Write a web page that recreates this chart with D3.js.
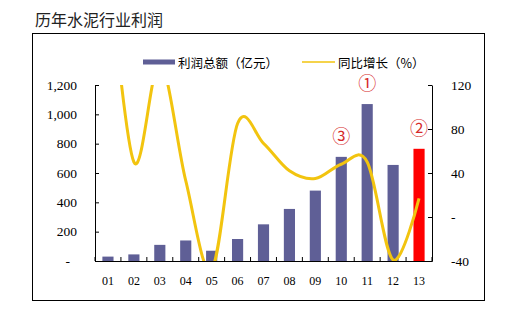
<!DOCTYPE html>
<html>
<head>
<meta charset="utf-8">
<script src="https://cdn.jsdelivr.net/npm/d3@7/dist/d3.min.js"></script>
<style>
  html, body { margin: 0; padding: 0; background: #fff; }
  svg { display: block; }
</style>
</head>
<body>
<script>
// Cement industry profit by year (亿元) and year-on-year growth (%)
const years = ["01", "02", "03", "04", "05", "06", "07", "08", "09", "10", "11", "12", "13"];
const profit = [30, 45, 110, 140, 70, 150, 250, 355, 480, 710, 1070, 655, 765];
const growth = [240, 50, 140, 33, -48, 85, 67, 42, 35, 48, 50, -39, 17];
const leftTicks = [0, 200, 400, 600, 800, 1000, 1200];
const rightTicks = [-40, 0, 40, 80, 120];
const highlightIndex = 12;
const markers = [
  { label: "①", index: 10, value: 1220 },
  { label: "③", index: 9, value: 860 },
  { label: "②", index: 12, value: 915 }
];

const W = 518, H = 333;
const plot = { left: 95, right: 432, top: 85, bottom: 261 };

const svg = d3.select("body").append("svg")
  .attr("width", W).attr("height", H);

// title
svg.append("text")
  .attr("x", 35).attr("y", 26)
  .attr("font-family", "'Noto Sans CJK SC', sans-serif")
  .attr("font-size", 16)
  .attr("fill", "#222")
  .text("历年水泥行业利润");

// chart frame
svg.append("rect")
  .attr("x", 32.5).attr("y", 33.5)
  .attr("width", 452).attr("height", 267)
  .attr("fill", "none").attr("stroke", "#000").attr("stroke-width", 1);

const x = d3.scaleBand().domain(years)
  .range([plot.left, plot.right]).paddingInner(0.57).paddingOuter(0.285);
const yL = d3.scaleLinear().domain([0, 1200]).range([plot.bottom, plot.top]);
const yR = d3.scaleLinear().domain([-40, 120]).range([plot.bottom, plot.top]);

const serif = "'Liberation Serif', 'Times New Roman', serif";
const barColor = "#5f5f96";
const lineColor = "#f2c40f";

// bars
svg.append("g").selectAll("rect").data(profit).join("rect")
  .attr("x", (d, i) => x(years[i]))
  .attr("y", d => yL(d))
  .attr("width", x.bandwidth())
  .attr("height", d => yL(0) - yL(d))
  .attr("fill", (d, i) => i === highlightIndex ? "#ff0000" : barColor);

// growth line, clipped to the plot area
svg.append("clipPath").attr("id", "plotClip")
  .append("rect")
  .attr("x", plot.left).attr("y", plot.top)
  .attr("width", plot.right - plot.left).attr("height", plot.bottom - plot.top);

const cx = i => x(years[i]) + x.bandwidth() / 2;
const line = d3.line()
  .x((d, i) => cx(i))
  .y(d => yR(d))
  .curve(d3.curveCardinal.tension(0));

svg.append("path")
  .datum(growth)
  .attr("clip-path", "url(#plotClip)")
  .attr("d", line)
  .attr("fill", "none")
  .attr("stroke", lineColor)
  .attr("stroke-width", 3)
  .attr("stroke-linejoin", "round");

// axes
const fmtL = d => d === 0 ? "-" : d3.format(",")(d);
const fmtR = d => d === 0 ? "-" : String(d);

const gL = svg.append("g").attr("transform", `translate(${plot.left},0)`)
  .call(d3.axisLeft(yL).tickValues(leftTicks).tickFormat(fmtL).tickSizeInner(-4).tickSizeOuter(0).tickPadding(18));
gL.selectAll("text").attr("font-family", serif).attr("font-size", 13.5).attr("fill", "#000")
  .attr("dx", d => d === 0 ? -7 : 0);

const gR = svg.append("g").attr("transform", `translate(${plot.right},0)`)
  .call(d3.axisRight(yR).tickValues(rightTicks).tickFormat(fmtR).tickSizeInner(-4).tickSizeOuter(0).tickPadding(19));
gR.selectAll("text").attr("font-family", serif).attr("font-size", 13.5).attr("fill", "#000");

const gB = svg.append("g").attr("transform", `translate(0,${plot.bottom})`)
  .call(d3.axisBottom(x).tickSize(0).tickPadding(15));
gB.selectAll("text").attr("font-family", serif).attr("font-size", 12).attr("fill", "#000");
// category boundary ticks pointing inward
const step = x.step();
gB.append("g").selectAll("line").data(d3.range(years.length + 1)).join("line")
  .attr("x1", i => plot.left + i * step).attr("x2", i => plot.left + i * step)
  .attr("y1", 0).attr("y2", -4)
  .attr("stroke", "#000");

[gL, gR, gB].forEach(g => g.selectAll(".domain, line").attr("stroke", "#000"));

// circled markers
svg.append("g").selectAll("text").data(markers).join("text")
  .attr("x", d => cx(d.index))
  .attr("y", d => yL(d.value))
  .attr("text-anchor", "middle")
  .attr("dominant-baseline", "central")
  .attr("font-family", "'Noto Sans CJK SC', sans-serif")
  .attr("font-size", 18)
  .attr("fill", "#d62a2a")
  .text(d => d.label);

// legend
const lg = svg.append("g").attr("font-family", "'Noto Sans CJK SC', sans-serif")
  .attr("font-size", 12.5).attr("fill", "#000");
lg.append("rect").attr("x", 143).attr("y", 59.5).attr("width", 32).attr("height", 5).attr("fill", barColor);
lg.append("text").attr("x", 178).attr("y", 62).attr("dominant-baseline", "central").text("利润总额（亿元）");
lg.append("line").attr("x1", 302).attr("x2", 335).attr("y1", 62).attr("y2", 62)
  .attr("stroke", lineColor).attr("stroke-width", 1.5);
lg.append("text").attr("x", 338).attr("y", 62).attr("dominant-baseline", "central").text("同比增长（%）");
</script>
</body>
</html>
